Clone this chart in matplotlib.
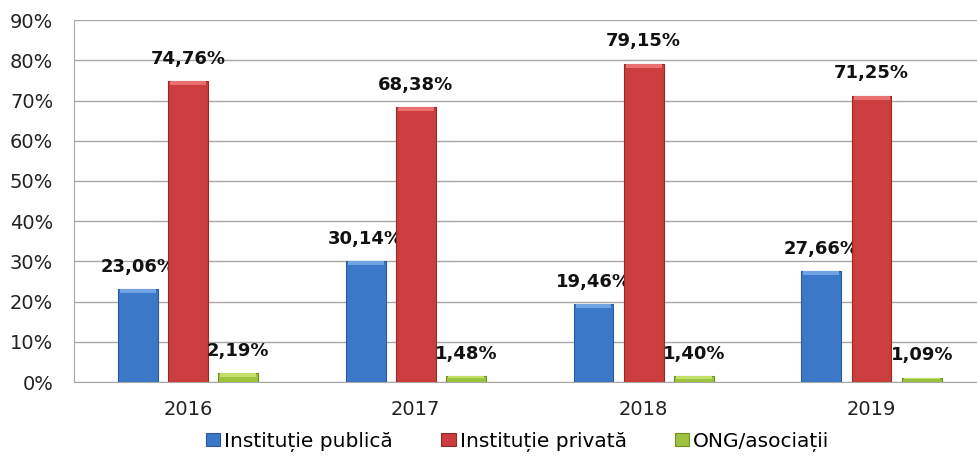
import numpy as np
import matplotlib.pyplot as plt

# data
ani = ["2016", "2017", "2018", "2019"]
publica = [23.06, 30.14, 19.46, 27.66]
privata = [74.76, 68.38, 79.15, 71.25]
ong = [2.19, 1.48, 1.40, 1.09]
serii = ["Instituție publică", "Instituție privată", "ONG/asociații"]

culori = ["#3b78c8", "#cc3d3d", "#9cc43c"]
margini = ["#2a5a98", "#952828", "#6f8f25"]
luminos = ["#6fa3e3", "#e87070", "#c4e06a"]

fig = plt.figure(figsize=(9.77, 4.57), dpi=100)
ax = fig.add_axes([0.0757, 0.164, 0.933, 0.792])

x = np.arange(len(ani))
w = 0.175
dx = 0.22
for i, (vals, nume) in enumerate(zip([publica, privata, ong], serii)):
    pos = x + (i - 1) * dx
    ax.bar(pos, vals, width=w, color=culori[i], edgecolor=margini[i], linewidth=0.8,
           label=nume, zorder=3)
    # light cap on top of each bar (bevel look)
    cap = [min(1.0, v * 0.4) for v in vals]
    ax.bar(pos, cap, bottom=np.array(vals) - np.array(cap), width=w * 0.9,
           color=luminos[i], linewidth=0, zorder=4)
    for p, v in zip(pos, vals):
        ax.text(p, v + 3.3, f"{v:.2f}%".replace(".", ","), ha="center", va="bottom",
                fontsize=13, fontweight="bold", color="#111111")

ax.set_xlim(-0.5, 3.5)
ax.set_ylim(0, 90)
ax.set_yticks(range(0, 91, 10))
ax.set_yticklabels([f"{t}%" for t in range(0, 91, 10)], fontsize=14, color="#222222")
ax.set_xticks(x)
ax.set_xticklabels(ani, fontsize=14, color="#222222")
ax.tick_params(axis="y", length=0, pad=15)
ax.tick_params(axis="x", length=0, pad=13)
ax.yaxis.grid(True, color="#a8a8a8", linewidth=1, zorder=0)
for s in ["top", "right"]:
    ax.spines[s].set_visible(False)
ax.spines["left"].set_color("#a8a8a8")
ax.spines["bottom"].set_color("#a8a8a8")

fig.legend(loc="lower center", bbox_to_anchor=(0.53, -0.028), ncol=3, frameon=False,
           fontsize=14.5, handlelength=0.7, handleheight=0.6, handletextpad=0.2,
           columnspacing=2.4)

plt.savefig("out.png", dpi=100)
